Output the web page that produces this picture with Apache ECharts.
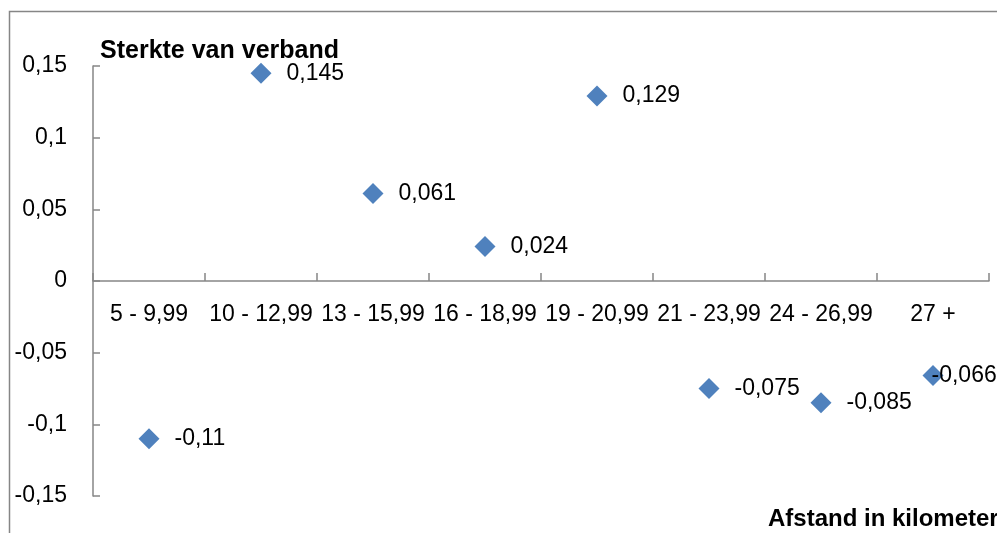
<!DOCTYPE html>
<html>
<head>
<meta charset="utf-8">
<script src="https://cdn.jsdelivr.net/npm/echarts@6/dist/echarts.min.js"></script>
<style>
  html, body { margin: 0; padding: 0; background: #fff; }
  #chart { width: 997px; height: 533px; }
</style>
</head>
<body>
<div id="chart"></div>
<script>
// afstandsklassen en sterkte van verband
const categories = ['5 - 9,99', '10 - 12,99', '13 - 15,99', '16 - 18,99', '19 - 20,99', '21 - 23,99', '24 - 26,99', '27 +'];
const values = [-0.11, 0.145, 0.061, 0.024, 0.129, -0.075, -0.085, -0.066];
const yTitle = 'Sterkte van verband';
const xTitle = 'Afstand in kilometers';

const Font = "'Liberation Sans', Arial, sans-serif";
const AxisColor = '#868686';
const MarkerColor = '#4F81BD';

function comma(v) {
  return String(+v.toFixed(3)).replace('.', ',');
}

// laatste label schuift naar links zoals in Excel
var seriesData = [];
for (var i = 0; i < values.length; i++) {
  var item = { value: values[i] };
  if (i == values.length - 1) {
    item.label = { offset: [-27, 0] };
  }
  seriesData.push(item);
}

const chart = echarts.init(document.getElementById('chart'));
chart.setOption({
  animation: false,
  backgroundColor: '#ffffff',
  textStyle: { fontFamily: Font },
  title: [{
    text: yTitle,
    left: 95,
    top: 34,
    textStyle: { fontFamily: Font, fontSize: 25, fontWeight: 'bold', color: '#000' }
  }, {
    text: xTitle,
    left: 763,
    top: 502,
    textStyle: { fontFamily: Font, fontSize: 24, fontWeight: 'bold', color: '#000' }
  }],
  graphic: [{
    type: 'rect',
    shape: { x: 9.5, y: 11.5, width: 1100, height: 700 },
    style: { fill: 'none', stroke: AxisColor, lineWidth: 1.5 },
    silent: true
  }],
  grid: [
    { left: 93, right: 8, top: 66, bottom: 37 },
    // bovenste helft, alleen voor de categorie-labels onder de nullijn
    { left: 93, right: 8, top: 66, height: 215 }
  ],
  xAxis: [{
    type: 'category',
    gridIndex: 0,
    data: categories,
    boundaryGap: true,
    axisLine: { onZero: true, lineStyle: { color: AxisColor, width: 1.5 } },
    axisTick: { show: true, inside: true, length: 8, lineStyle: { color: AxisColor, width: 1.5 } },
    axisLabel: { show: false },
    splitLine: { show: false }
  }, {
    type: 'category',
    gridIndex: 1,
    data: categories,
    boundaryGap: true,
    axisLine: { show: false },
    axisTick: { show: false },
    axisLabel: { interval: 0, margin: 22, color: '#000', fontSize: 23, fontFamily: Font },
    splitLine: { show: false }
  }],
  yAxis: [{
    type: 'value',
    gridIndex: 0,
    min: -0.15,
    max: 0.15,
    interval: 0.05,
    axisLine: { show: true, lineStyle: { color: AxisColor, width: 1.5 } },
    axisTick: { show: true, inside: true, length: 7, lineStyle: { color: AxisColor, width: 1.5 } },
    axisLabel: {
      margin: 26,
      color: '#000',
      fontSize: 23,
      fontFamily: Font,
      formatter: function (v) { return comma(v); }
    },
    splitLine: { show: false }
  }, {
    type: 'value',
    gridIndex: 1,
    min: 0,
    max: 1,
    show: false
  }],
  series: [{
    type: 'scatter',
    xAxisIndex: 0,
    yAxisIndex: 0,
    data: seriesData,
    symbol: 'diamond',
    symbolSize: [21, 21],
    itemStyle: { color: MarkerColor, opacity: 1 },
    label: {
      show: true,
      position: 'right',
      distance: 15,
      color: '#000',
      fontSize: 23,
      fontFamily: Font,
      formatter: function (p) { return comma(p.value); }
    }
  }]
});
</script>
</body>
</html>
